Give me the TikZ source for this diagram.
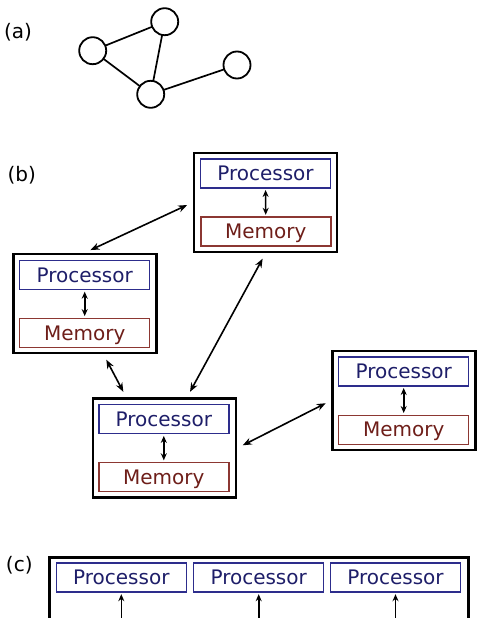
\documentclass[tikz,border=0pt]{standalone}
\usepackage{fontspec}
\setmainfont{DejaVu Sans}
\usetikzlibrary{arrows.meta}

\begin{document}
\begin{tikzpicture}[x=1pt, y=-1pt, >={Stealth[length=7pt,width=6pt]},
    font=\fontsize{20}{24}\selectfont,
    vertex/.style={circle, draw, fill=white, line width=1.8pt, minimum size=27pt, inner sep=0pt},
    unit/.style={draw, line width=2.8pt, minimum width=143pt, minimum height=99pt, inner sep=0pt},
    proc/.style={draw=procblue, text=proctext, line width=1.4pt, minimum width=130pt, minimum height=29pt, inner sep=0pt},
    mem/.style={draw=memred, text=memtext, line width=1.4pt, minimum width=130pt, minimum height=29pt, inner sep=0pt, text depth=0pt},
    link/.style={{Stealth[length=9pt,width=7pt]}-{Stealth[length=9pt,width=7pt]}, line width=1.6pt, shorten <=6pt, shorten >=6pt},
    bus/.style={<->, line width=1.6pt, shorten <=1.5pt, shorten >=1.5pt}]
            \definecolor{procblue}{RGB}{45, 45, 140}
            \definecolor{proctext}{RGB}{30, 30, 105}
            \definecolor{memred}{RGB}{140, 55, 50}
            \definecolor{memtext}{RGB}{110, 30, 25}

            \useasboundingbox (0,0) rectangle (495,618);
            \clip (0,0) rectangle (495,618);

            % (a) graph
            \node (labela) at (18,32) {(a)};
            \draw[line width=1.7pt] (92.7,50.7) -- (164.7,21.7) -- (150.7,94.3) -- cycle;
            \draw[line width=1.7pt] (150.7,94.3) -- (237,65);
            \node[vertex] (va) at (92.7,50.7) {};
            \node[vertex] (vb) at (164.7,21.7) {};
            \node[vertex] (vc) at (150.7,94.3) {};
            \node[vertex] (vd) at (237,65) {};

            % (b) distributed
            \node (labelb) at (21.7,175) {(b)};

            \node[unit] (top) at (265.5,202.5) {};
            \node[proc] (ptop) at (265.5,173.3) {Processor};
            \node[mem] (mtop) at (265.8,231.5) {Memory};

            \node[unit] (left) at (85,303.5) {};
            \node[proc] (pleft) at (84.7,275) {Processor};
            \node[mem] (mleft) at (84.7,332.8) {Memory};

            \node[unit] (mid) at (164.5,448) {};
            \node[proc] (pmid) at (163.8,419.2) {Processor};
            \node[mem] (mmid) at (163.8,477) {Memory};

            \node[unit] (right) at (404,400.5) {};
            \node[proc] (pright) at (403.7,371.3) {Processor};
            \node[mem] (mright) at (403.7,429.7) {Memory};

            \draw[bus] (ptop) -- (mtop);
            \draw[bus] (pleft) -- (mleft);
            \draw[bus] (pmid) -- (mmid);
            \draw[bus] (pright) -- (mright);

            \draw[link] (left.north) -- (top.west);
            \draw[link] (top.south) -- (mid.66);
            \draw[link] (left.-70) -- (mid.127);
            \draw[link] (mid.east) -- (right.west);

            % (c) shared
            \node (labelc) at (19.3,565) {(c)};
            \draw[line width=2.8pt] (49.7,557.4) rectangle (468.6,660);
            \node[proc] (p1) at (121.3,577.5) {Processor};
            \node[proc] (p2) at (258.7,577.5) {Processor};
            \node[proc] (p3) at (395.5,577.5) {Processor};
            \coordinate (s1) at (121.3,640);
            \coordinate (s2) at (258.7,640);
            \coordinate (s3) at (395.5,640);
            \draw[bus] (p1) -- (s1);
            \draw[bus] (p2) -- (s2);
            \draw[bus] (p3) -- (s3);
        \end{tikzpicture}
\end{document}
